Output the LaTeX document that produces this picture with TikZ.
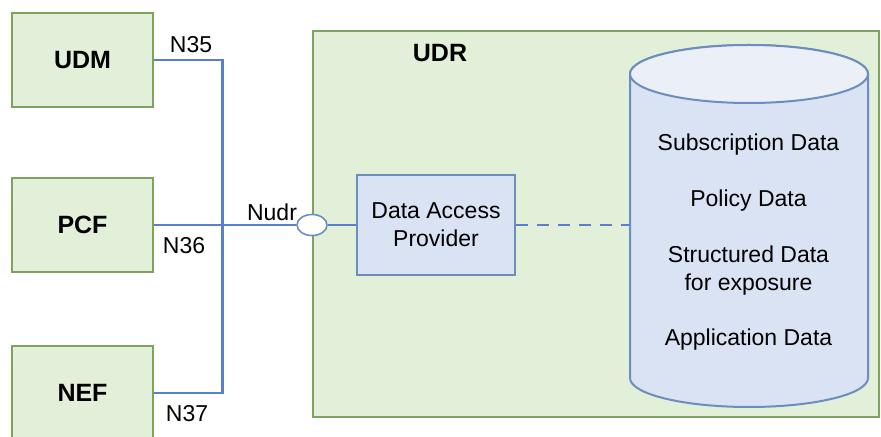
\documentclass[tikz,border=0pt]{standalone}
\usepackage{fontspec}
\setmainfont{Liberation Sans}
\usetikzlibrary{shapes.geometric}
\definecolor{gfill}{HTML}{E2EFD9}
\definecolor{gdraw}{HTML}{7FA35F}
\definecolor{bfill}{HTML}{DAE3F3}
\definecolor{bdraw}{HTML}{6C8EBF}
\definecolor{wire}{HTML}{5B7FD0}
\tikzset{
  nfbox/.style={draw=gdraw,fill=gfill,line width=2bp,minimum width=141bp,minimum height=94bp,inner sep=0pt,font=\fontsize{25bp}{28bp}\selectfont\bfseries},
  lbl/.style={inner sep=0pt,font=\fontsize{23bp}{26bp}\selectfont},
  wireline/.style={draw=wire,line width=2.2bp},
}
\begin{document}
\begin{tikzpicture}[x=1bp,y=-1bp]
\useasboundingbox (0,0) rectangle (881,437);
\clip (0,0) rectangle (881,437);
\fill[white] (0,0) rectangle (881,437);
% UDR container
\node[draw=gdraw,fill=gfill,line width=2bp,minimum width=566bp,minimum height=386bp,inner sep=0pt] (udr) at (596,224) {};
\node[inner sep=0pt,font=\fontsize{25bp}{28bp}\selectfont\bfseries] (udrlbl) at (440,53) {UDR};
% NF boxes
\node[nfbox] (udm) at (82.5,60) {UDM};
\node[nfbox] (pcf) at (82.5,225) {PCF};
\node[nfbox,minimum height=94bp] (nef) at (82.5,393) {NEF};
% cylinder
\filldraw[draw=bdraw,fill=bfill,line width=2bp] (630,74) -- (630,378) arc[start angle=180,end angle=0,x radius=119,y radius=29] -- (868,74) arc[start angle=0,end angle=-180,x radius=119,y radius=29] -- cycle;
\filldraw[draw=bdraw,fill=bfill!55!white,line width=2bp] (749,74) ellipse[x radius=119,y radius=29];
\coordinate (dbl) at (630,225);
\node[lbl] (t1) at (748.5,145) {Subscription Data};
\node[lbl] (t2) at (748.5,201) {Policy Data};
\node[lbl,align=center,font=\fontsize{23bp}{28bp}\selectfont] (t3) at (748.5,271) {Structured Data\\for exposure};
\node[lbl] (t4) at (748.5,340) {Application Data};
% DAP
\node[draw=bdraw,fill=bfill,line width=2bp,minimum width=158bp,minimum height=100bp,inner sep=0pt,align=center,font=\fontsize{23bp}{28bp}\selectfont] (dap) at (436,225) {Data Access\\Provider};
% interface
\node[draw=bdraw,fill=white,line width=1.6bp,ellipse,minimum width=30bp,minimum height=21bp,inner sep=0pt] (iface) at (312,225) {};
% wires
\coordinate (bus) at (222.5,225);
\draw[wireline] (udm.east) -| (bus) |- (nef.east);
\draw[wireline] (pcf.east) -- (iface.west);
\draw[wireline] (iface.east) -- (dap.west);
\draw[wireline,dash pattern=on 12bp off 9bp] (dap.east) -- (dbl);
% labels
\node[lbl] (n35) at (191,45) {N35};
\node[lbl] (n36) at (184,246) {N36};
\node[lbl] (n37) at (187,414) {N37};
\node[lbl] (nudr) at (272,212) {Nudr};
\end{tikzpicture}
\end{document}
